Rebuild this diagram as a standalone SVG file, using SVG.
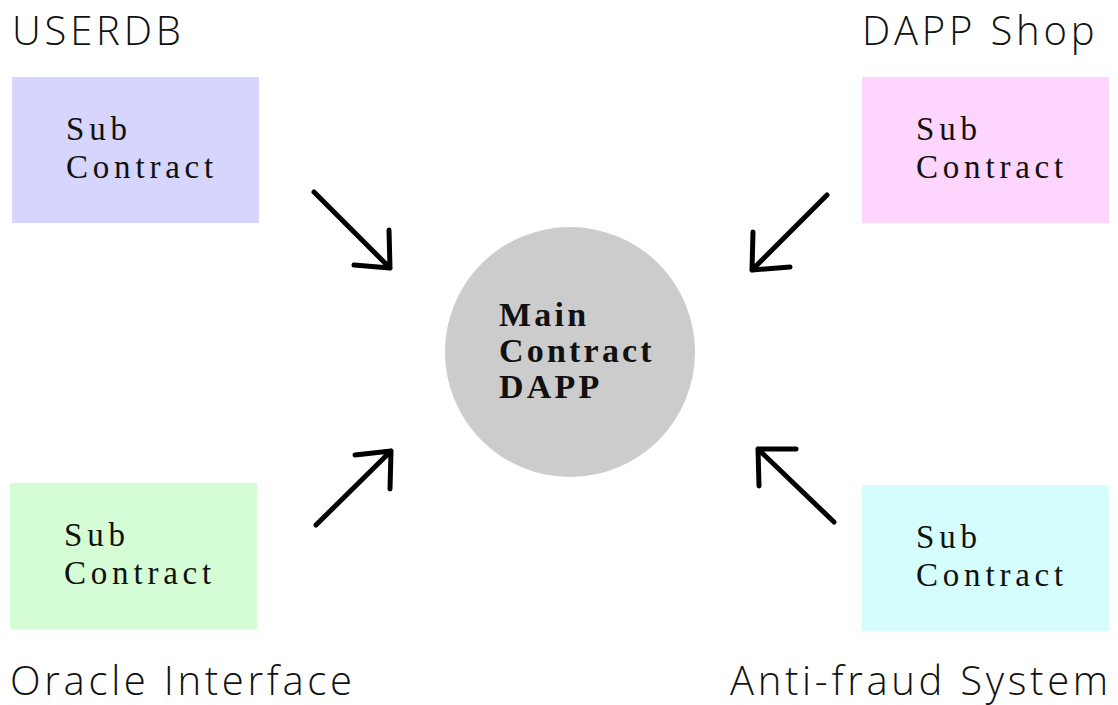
<svg xmlns="http://www.w3.org/2000/svg" width="1118" height="705" viewBox="0 0 1118 705">
  <style>
    .title { font-family: "Open Sans", "Liberation Sans", sans-serif; font-weight: 300; font-size: 40px; letter-spacing: 3.8px; fill: #111; }
    .bottom { letter-spacing: 3.7px; }
    .sub { font-family: "Liberation Serif", "DejaVu Serif", serif; font-size: 33px; letter-spacing: 4.8px; fill: #111; }
    .main { font-family: "Liberation Serif", "DejaVu Serif", serif; font-weight: bold; font-size: 34px; letter-spacing: 3.2px; fill: #111; }
    .arrow { fill: none; stroke: #000; stroke-width: 5; stroke-linecap: round; stroke-linejoin: round; }
  </style>
  <rect width="1118" height="705" fill="#fff"/>

  <g id="userdb">
    <text class="title" x="12" y="45">USERDB</text>
    <rect x="12" y="77" width="247" height="146" fill="#d5d5fd"/>
    <text class="sub" x="66" y="140">Sub</text>
    <text class="sub" x="66" y="178">Contract</text>
  </g>

  <g id="dapp-shop">
    <text class="title" x="862" y="45">DAPP Shop</text>
    <rect x="862" y="77" width="247" height="146" fill="#fdd5fd"/>
    <text class="sub" x="916" y="140">Sub</text>
    <text class="sub" x="916" y="178">Contract</text>
  </g>

  <g id="oracle-interface">
    <rect x="10" y="483" width="247" height="146" fill="#d5fdd5"/>
    <text class="sub" x="64" y="546">Sub</text>
    <text class="sub" x="64" y="584">Contract</text>
    <text class="title bottom" x="10" y="695">Oracle Interface</text>
  </g>

  <g id="anti-fraud">
    <rect x="862" y="485" width="247" height="146" fill="#d5fdfd"/>
    <text class="sub" x="916" y="548">Sub</text>
    <text class="sub" x="916" y="586">Contract</text>
    <text class="title bottom" x="730" y="695">Anti-fraud System</text>
  </g>

  <g id="main-contract">
    <circle cx="570" cy="352" r="125" fill="#cccccc"/>
    <text class="main" x="499" y="326">Main</text>
    <text class="main" x="499" y="362">Contract</text>
    <text class="main" x="499" y="398">DAPP</text>
  </g>

  <g id="connectors">
    <path class="arrow" d="M314 192 L390 268 M389 230 L390 268 L354 265"/>
    <path class="arrow" d="M827 195 L752 270 M753 232 L752 270 L790 267"/>
    <path class="arrow" d="M316 525 L391 451 M355 455 L391 451 L390 489"/>
    <path class="arrow" d="M834 522 L758 449 M796 449 L758 449 L759 486"/>
  </g>
</svg>
